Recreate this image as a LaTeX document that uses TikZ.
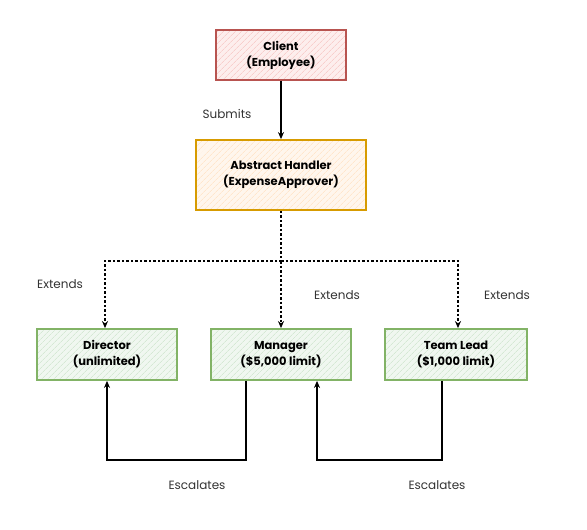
\documentclass[tikz,border=0pt]{standalone}
\usepackage{fontspec}
\setmainfont{Poppins}
\usetikzlibrary{patterns.meta,arrows.meta}
\definecolor{redS}{HTML}{B85450}
\definecolor{redF}{HTML}{F8CECC}
\definecolor{orgS}{HTML}{D79B00}
\definecolor{orgF}{HTML}{FFE6CC}
\definecolor{grnS}{HTML}{82B366}
\definecolor{grnF}{HTML}{D5E8D4}
\tikzset{
  box/.style={draw=#1S, line width=1.8pt,
    preaction={fill=#1F!35},
    preaction={pattern={Lines[angle=45,distance=4pt,line width=0.7pt]},pattern color=#1F},
    font=\fontsize{11.5}{16}\selectfont\bfseries, align=center, inner sep=0pt, text=black},
  conn/.style={draw=black, line width=1.2pt, -{Stealth[length=7pt,width=6pt]}},
  dconn/.style={conn, dashed, dash pattern=on 2.5pt off 2pt},
  lbl/.style={font=\fontsize{12}{14}\selectfont, text=black!80}
}
\begin{document}
\begin{tikzpicture}[x=1pt,y=-1pt]
\useasboundingbox (0,0) rectangle (587,530);
\node[box=red, minimum width=130pt, minimum height=50pt] (client) at (281,55) {Client\\(Employee)};
\node[box=org, minimum width=170pt, minimum height=70pt] (handler) at (281,175) {Abstract Handler\\(ExpenseApprover)};
\node[box=grn, minimum width=140pt, minimum height=51pt] (director) at (107,354.5) {Director\\(unlimited)};
\node[box=grn, minimum width=140pt, minimum height=51pt] (manager) at (281,354.5) {Manager\\(\$5,000 limit)};
\node[box=grn, minimum width=142pt, minimum height=51pt] (lead) at (456,354.5) {Team Lead\\(\$1,000 limit)};

\draw[conn] (client.south) -- (handler.north);
\node[lbl] (submits) at (227,114) {Submits};

\coordinate (jn) at (281,261);
\draw[dconn] (handler.south) -- (jn) -| (director.north -| 105,0);
\draw[dconn] (jn) -- (manager.north);
\draw[dconn] (jn) -| (lead.north -| 458,0);
\node[lbl] (ext1) at (60,284) {Extends};
\node[lbl] (ext2) at (337,295) {Extends};
\node[lbl] (ext3) at (507,295) {Extends};

\coordinate (m1) at (246,460);
\coordinate (l1) at (442,460);
\draw[conn] (manager.south -| 246,0) -- (m1) -| (director.south -| 107,0);
\draw[conn] (lead.south -| 442,0) -- (l1) -| (manager.south -| 317,0);
\node[lbl] (esc1) at (197,485) {Escalates};
\node[lbl] (esc2) at (437,485) {Escalates};
\end{tikzpicture}
\end{document}
